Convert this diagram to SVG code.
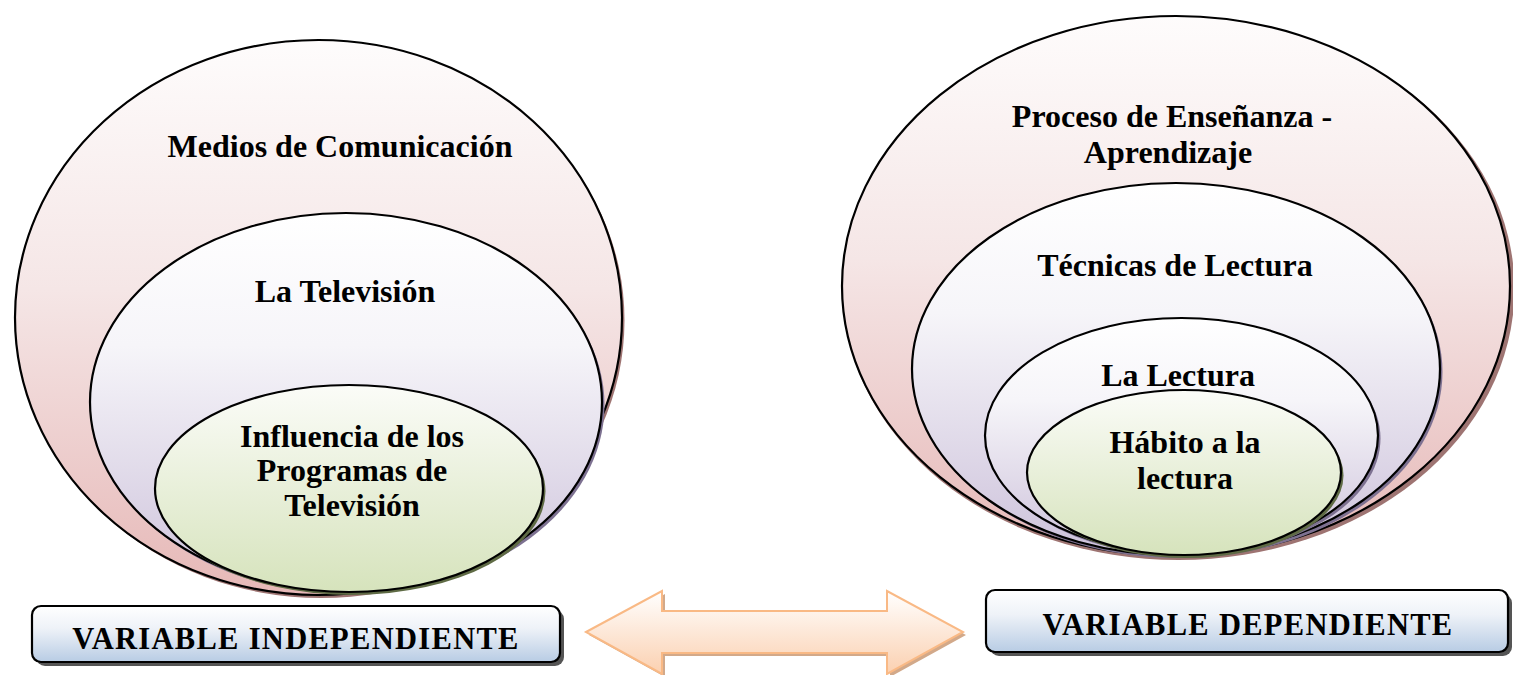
<svg xmlns="http://www.w3.org/2000/svg" width="1513" height="675" viewBox="0 0 1513 675">
<defs>
<linearGradient id="gPink" x1="0" y1="0" x2="0" y2="1"><stop offset="0" stop-color="#fefcfc"/><stop offset="0.45" stop-color="#f5e6e6"/><stop offset="1" stop-color="#e6b8b7"/></linearGradient>
<linearGradient id="gLav" x1="0" y1="0" x2="0" y2="1"><stop offset="0" stop-color="#ffffff"/><stop offset="0.35" stop-color="#f6f5f9"/><stop offset="1" stop-color="#cdc2db"/></linearGradient>
<linearGradient id="gGreen" x1="0" y1="0" x2="0" y2="1"><stop offset="0" stop-color="#fbfcf8"/><stop offset="1" stop-color="#d6e3bc"/></linearGradient>
<linearGradient id="gBlue" x1="0" y1="0" x2="0" y2="1"><stop offset="0" stop-color="#ffffff"/><stop offset="0.4" stop-color="#eef2f8"/><stop offset="1" stop-color="#b8cce4"/></linearGradient>
<linearGradient id="gPeach" x1="0" y1="0" x2="0" y2="1"><stop offset="0" stop-color="#ffffff"/><stop offset="1" stop-color="#fbd0b0"/></linearGradient>
</defs>
<style>
.e{stroke:#000;stroke-width:2.2}
.t{font-family:"Liberation Serif","Times New Roman",serif;font-weight:bold;font-size:32px;fill:#000;text-anchor:middle}
.v{font-size:30.5px;letter-spacing:1.3px}
.b{stroke:#000;stroke-width:2.2;fill:url(#gBlue)}
</style>
<g id="left-outer">
<ellipse cx="321" cy="320.5" rx="303.5" ry="277.5" fill="#9e7472"/>
<ellipse class="e" cx="318.5" cy="317.5" rx="303.5" ry="277.5" fill="url(#gPink)"/>
<text class="t" x="340" y="157">Medios de Comunicación</text>
</g>
<g id="left-mid">
<ellipse cx="348.5" cy="405" rx="256" ry="189" fill="#7d7191"/>
<ellipse class="e" cx="346" cy="402" rx="256" ry="189" fill="url(#gLav)"/>
<text class="t" x="345" y="302">La Televisión</text>
</g>
<g id="left-inner">
<ellipse cx="351.5" cy="491.5" rx="194" ry="103.5" fill="#5f6b45"/>
<ellipse class="e" cx="349" cy="488.5" rx="194" ry="103.5" fill="url(#gGreen)"/>
<text class="t" x="352" y="447">Influencia de los</text>
<text class="t" x="352" y="481">Programas de</text>
<text class="t" x="352" y="516">Televisión</text>
</g>
<g id="right-outer">
<ellipse cx="1178.5" cy="289" rx="336" ry="271" fill="#9e7472"/>
<ellipse class="e" cx="1176" cy="286" rx="334" ry="270" fill="url(#gPink)"/>
<text class="t" x="1172" y="127">Proceso de Enseñanza -</text>
<text class="t" x="1168" y="163">Aprendizaje</text>
</g>
<g id="right-mid">
<ellipse cx="1178.5" cy="372" rx="264" ry="186" fill="#7d7191"/>
<ellipse class="e" cx="1176" cy="369" rx="264" ry="186" fill="url(#gLav)"/>
<text class="t" x="1175" y="276">Técnicas de Lectura</text>
</g>
<g id="right-lectura">
<ellipse cx="1184" cy="438.5" rx="196.5" ry="117.5" fill="#7d7191"/>
<ellipse class="e" cx="1181.5" cy="435.5" rx="196.5" ry="117.5" fill="url(#gLav)"/>
<text class="t" x="1178" y="386">La Lectura</text>
</g>
<g id="right-inner">
<ellipse cx="1186.5" cy="475.5" rx="157" ry="82.5" fill="#5f6b45"/>
<ellipse class="e" cx="1184" cy="472.5" rx="157" ry="82.5" fill="url(#gGreen)"/>
<text class="t" x="1185" y="453">Hábito a la</text>
<text class="t" x="1185" y="489">lectura</text>
</g>
<g id="box-independiente">
<rect x="36" y="610" width="528" height="56" rx="9" fill="#555"/>
<rect class="b" x="32" y="606" width="528" height="56" rx="9"/>
<text class="t v" x="296" y="649">VARIABLE INDEPENDIENTE</text>
</g>
<g id="box-dependiente">
<rect x="990" y="594" width="522" height="62" rx="9" fill="#555"/>
<rect class="b" x="986" y="590" width="522" height="62" rx="9"/>
<text class="t v" x="1248" y="635">VARIABLE DEPENDIENTE</text>
</g>
<g id="connectors">
<path d="M589 635 L665 594 L665 614 L890 614 L890 594 L966 635 L890 677 L890 656 L665 656 L665 677 Z" fill="#d2a98a"/>
<path d="M586 632 L662 591 L662 611 L887 611 L887 591 L963 632 L887 674 L887 653 L662 653 L662 674 Z" fill="url(#gPeach)" stroke="#f9b985" stroke-width="2"/>
</g>
</svg>
